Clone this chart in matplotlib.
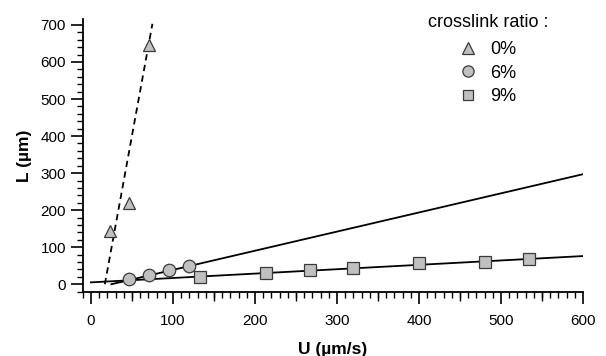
import matplotlib
matplotlib.use("Agg")
import matplotlib.pyplot as plt
from matplotlib.ticker import MultipleLocator

plt.rcParams['font.family'] = ['Liberation Sans', 'DejaVu Sans']

# data
U_0 = [23, 47, 71]
L_0 = [143, 218, 645]
U_6 = [47, 71, 95, 119]
L_6 = [15, 24, 38, 50]
U_9 = [133, 214, 267, 320, 400, 481, 534]
L_9 = [20, 31, 38, 45, 58, 61, 67]

# fitted lines (endpoints in data units)
fit0_U = [17, 75]
fit0_L = [0, 703]
fit6_U = [25, 600]
fit6_L = [0, 297]
fit9_U = [0, 600]
fit9_L = [5, 76]

labels = ['0%', '6%', '9%']

fig = plt.figure(figsize=(6.06, 3.56), dpi=100)
ax = fig.add_axes([82.7/606, 1-292/356, (583-82.7)/606, (292-19)/356])

face = '#c0c0c0'
edge = '#3a3a3a'

ax.plot(fit0_U, fit0_L, color='black', lw=1.3, ls=(0, (3.5, 2.5)))
ax.plot(fit6_U, fit6_L, color='black', lw=1.3)
ax.plot(fit9_U, fit9_L, color='black', lw=1.3)

ax.plot(U_0, L_0, ls='none', marker='^', ms=9, mfc=face, mec=edge, mew=0.9, label=labels[0])
ax.plot(U_6, L_6, ls='none', marker='o', ms=9, mfc=face, mec=edge, mew=0.9, label=labels[1])
ax.plot(U_9, L_9, ls='none', marker='s', ms=8.5, mfc=face, mec=edge, mew=0.9, label=labels[2])

ax.set_xlim(-10, 600)
ax.set_ylim(-21, 716)
for s in ['top', 'right']:
    ax.spines[s].set_visible(False)
for s in ['left', 'bottom']:
    ax.spines[s].set_linewidth(1.3)

ax.xaxis.set_major_locator(MultipleLocator(100))
ax.xaxis.set_minor_locator(MultipleLocator(10))
ax.yaxis.set_major_locator(MultipleLocator(100))
ax.yaxis.set_minor_locator(MultipleLocator(20))
ax.tick_params(axis='x', which='major', length=8.5, width=1.2, pad=7, labelsize=11)
ax.tick_params(axis='x', which='minor', length=4.3, width=1.0)
ax.tick_params(axis='y', which='major', length=8.5, width=1.2, pad=3.5, labelsize=11)
ax.tick_params(axis='y', which='minor', length=4, width=1.0)

# medium ticks at 50s on x
sec = ax.secondary_xaxis('bottom')
sec.set_xticks([v for v in range(50, 600, 100)])
sec.tick_params(axis='x', length=6.5, width=1.0, labelbottom=False)
sec.spines['bottom'].set_visible(False)

ax.set_xlabel('U (µm/s)', fontsize=12.5, fontweight='bold', labelpad=10.5)
ax.set_ylabel('L (µm)', fontsize=12.5, fontweight='bold', labelpad=6)

leg = ax.legend(title='crosslink ratio :', frameon=False, loc='upper right',
                bbox_to_anchor=(548/606, 1 - 14/356), bbox_transform=fig.transFigure,
                fontsize=13, title_fontsize=13,
                markerscale=0.9, handlelength=1.0, handletextpad=0.7,
                labelspacing=0.35, borderpad=0, borderaxespad=0)
leg._legend_box.sep += 3

fig.savefig('out.png', dpi=100)
